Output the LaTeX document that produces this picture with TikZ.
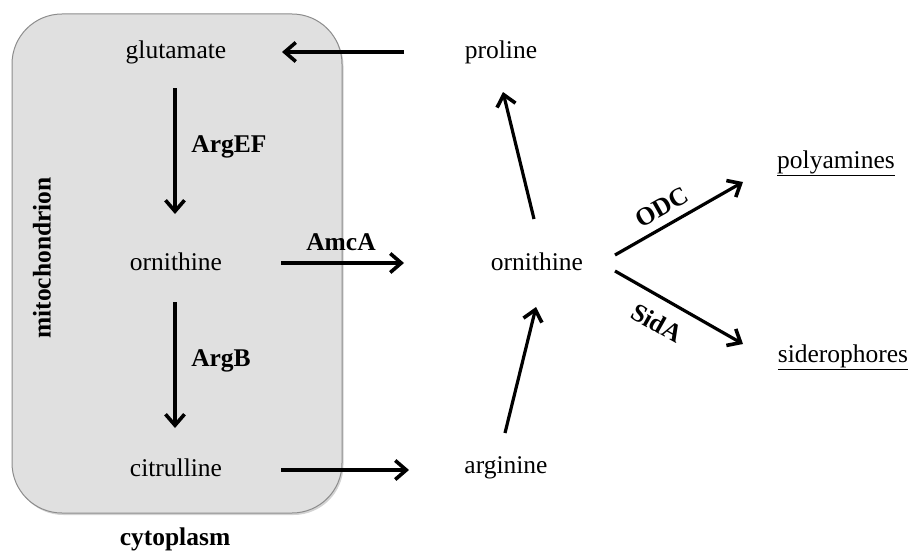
\documentclass[tikz,border=0pt]{standalone}
\usepackage{fontspec}
\setmainfont{Liberation Serif}
\usetikzlibrary{arrows.meta,shadows}
\begin{document}
\begin{tikzpicture}[x=1pt,y=-1pt,
  lbl/.style={inner sep=0pt,font=\fontsize{25.5}{30}\selectfont},
  enz/.style={inner sep=0pt,font=\fontsize{25.5}{30}\selectfont\bfseries},
  rx/.style={line width=3.2pt,-{Straight Barb[length=11pt,width=19pt,line width=3.6pt]}},
  compartment/.style={draw=black!45,line width=1pt,fill=black!12,rounded corners=50pt,
    drop shadow={shadow xshift=1.5pt,shadow yshift=-2pt,opacity=0.35}}]
\useasboundingbox (0,0) rectangle (909,551);
\node[compartment,minimum width=330pt,minimum height=499pt,inner sep=0pt] (mito) at (177,263.5) {};
\node[lbl] (glu) at (176,52) {glutamate};
\node[lbl] (pro) at (501,52) {proline};
\node[lbl] (ornL) at (176,262) {ornithine};
\node[lbl] (ornR) at (537,262) {ornithine};
\node[lbl] (cit) at (176,468) {citrulline};
\node[lbl] (arg) at (506,468) {arginine};
\node[lbl] (poly) at (836,163) {\underline{polyamines}};
\node[lbl] (sid) at (843,357) {\underline{siderophores}};
\node[enz,rotate=90] (mitolbl) at (42,258) {mitochondrion};
\node[enz] (cyto) at (175,539) {cytoplasm};
\coordinate (a1s) at (404,52); \coordinate (a1e) at (282,52);
\coordinate (a2s) at (175,88); \coordinate (a2e) at (175,214);
\coordinate (a3s) at (281,263); \coordinate (a3e) at (404,263);
\coordinate (a4s) at (175,302); \coordinate (a4e) at (175,428);
\coordinate (a5s) at (281,470); \coordinate (a5e) at (409,470);
\coordinate (a6s) at (505,433); \coordinate (a6e) at (536,307);
\coordinate (a7s) at (534,219); \coordinate (a7e) at (503,92);
\coordinate (a8s) at (615,255); \coordinate (a8e) at (743,182);
\coordinate (a9s) at (615,271); \coordinate (a9e) at (743,344);
\draw[rx] (a1s) -- (a1e);
\draw[rx] (a2s) -- (a2e);
\draw[rx] (a3s) -- (a3e);
\draw[rx] (a4s) -- (a4e);
\draw[rx] (a5s) -- (a5e);
\draw[rx] (a6s) -- (a6e);
\draw[rx] (a7s) -- (a7e);
\draw[rx] (a8s) -- (a8e);
\draw[rx] (a9s) -- (a9e);
\node[enz] (argef) at (229,147) {ArgEF};
\node[enz] (argb) at (221,361) {ArgB};
\node[enz] (amca) at (341,242) {AmcA};
\node[enz,rotate=29.5] (odc) at (662,207) {ODC};
\node[enz,rotate=-29.5] (sida) at (657,323) {SidA};
\end{tikzpicture}
\end{document}
